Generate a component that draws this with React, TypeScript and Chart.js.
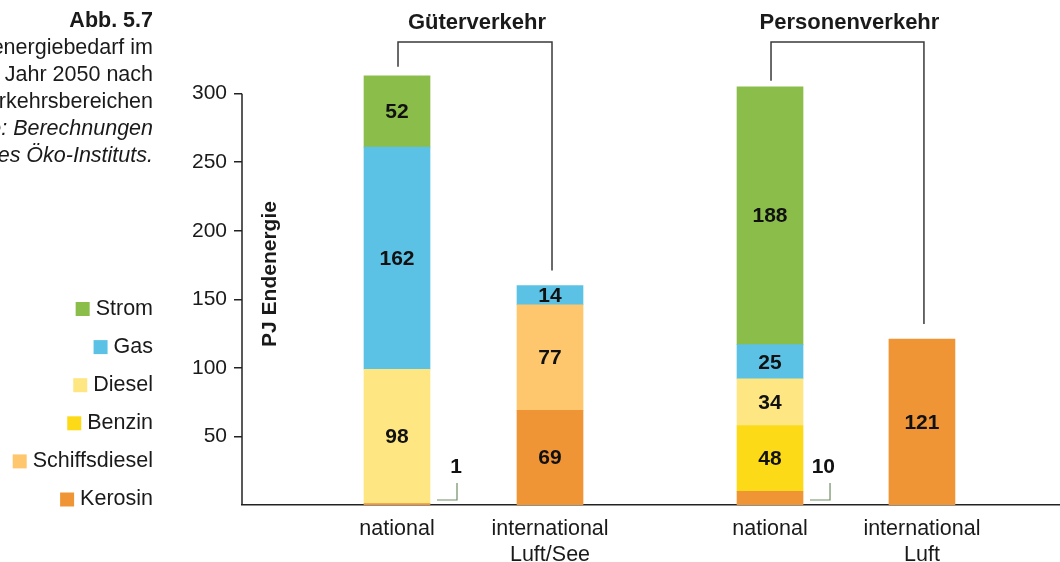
import React, { useEffect, useRef } from 'react';
import { Chart, registerables } from 'chart.js';

Chart.register(...registerables);

// ---- data ----
const categoryLabels: string[][] = [['national'], ['international', 'Luft/See'], ['national'], ['international', 'Luft']];
const groupTitles = ['Güterverkehr', 'Personenverkehr'];
const seriesNames = ['Kerosin', 'Schiffsdiesel', 'Benzin', 'Diesel', 'Gas', 'Strom'];
const kerosin = [1, 69, 10, 121];
const schiffsdiesel = [null, 77, null, null];
const benzin = [null, null, 48, null];
const diesel = [98, null, 34, null];
const gas = [162, 14, 25, null];
const strom = [52, null, 188, null];
const yTickValues = [50, 100, 150, 200, 250, 300];
const captionLines = ['Abb. 5.7', 'Endenergiebedarf im', 'Jahr 2050 nach', 'Verkehrsbereichen', 'Quelle: Berechnungen', 'des Öko-Instituts.'];

// ---- layout / styles ----
const seriesColors = ['#F09536', '#FEC76E', '#FDDA17', '#FEE682', '#5BC2E5', '#8BBD4A'];
const slotX = [0, 1, 2.438, 3.431];
const FONT = '"Liberation Sans", Arial, Helvetica, sans-serif';
const TEXT = '#1a1a1a';

const seriesValues = [kerosin, schiffsdiesel, benzin, diesel, gas, strom];

const decorPlugin = {
  id: 'decor',
  afterDatasetsDraw(chart: any) {
    const ctx = chart.ctx;
    ctx.save();
    chart.data.datasets.forEach((ds: any, i: number) => {
      const meta = chart.getDatasetMeta(i);
      meta.data.forEach((bar: any, j: number) => {
        const v = seriesValues[i][j];
        if (v == null) return;
        const { x, y, base, width } = bar.getProps(['x', 'y', 'base', 'width'], true);
        ctx.font = `bold 21px ${FONT}`;
        ctx.fillStyle = '#111';
        if (v >= 12) {
          ctx.textAlign = 'center';
          ctx.textBaseline = 'middle';
          ctx.fillText(String(v), x, (y + base) / 2 + 1);
        } else {
          const right = x + width / 2;
          ctx.textAlign = 'right';
          ctx.textBaseline = 'middle';
          ctx.fillText(String(v), right + 32, base - 38);
          ctx.strokeStyle = '#6f8d63';
          ctx.lineWidth = 1.2;
          ctx.beginPath();
          ctx.moveTo(right + 27, base - 22);
          ctx.lineTo(right + 27, base - 5);
          ctx.lineTo(right + 7, base - 5);
          ctx.stroke();
        }
      });
    });
    ctx.restore();
  },
  afterDraw(chart: any) {
    const ctx = chart.ctx;
    const xs = chart.scales.x;
    const ys = chart.scales.y;
    const area = chart.chartArea;
    ctx.save();

    // y axis line (0..300)
    ctx.strokeStyle = '#222';
    ctx.lineWidth = 1.5;
    ctx.beginPath();
    ctx.moveTo(area.left, ys.getPixelForValue(yTickValues[yTickValues.length - 1]));
    ctx.lineTo(area.left, ys.getPixelForValue(0));
    ctx.stroke();

    // y title
    ctx.save();
    ctx.translate(270, 274);
    ctx.rotate(-Math.PI / 2);
    ctx.font = `bold 21px ${FONT}`;
    ctx.fillStyle = TEXT;
    ctx.textAlign = 'center';
    ctx.textBaseline = 'middle';
    ctx.fillText('PJ Endenergie', 0, 0);
    ctx.restore();

    // group brackets
    const totals = categoryLabels.map((_, j) =>
      seriesValues.reduce((s, arr) => s + (arr[j] ?? 0), 0)
    );
    const gaps = [9, 15, 6, 15];
    [0, 1].forEach((g) => {
      const a = 2 * g, b = 2 * g + 1;
      const xa = xs.getPixelForValue(slotX[a]) + 1;
      const xb = xs.getPixelForValue(slotX[b]) + 2;
      const yTop = 42;
      ctx.strokeStyle = '#3a3a3a';
      ctx.lineWidth = 1.5;
      ctx.beginPath();
      ctx.moveTo(xa, ys.getPixelForValue(totals[a]) - gaps[a]);
      ctx.lineTo(xa, yTop);
      ctx.lineTo(xb, yTop);
      ctx.lineTo(xb, ys.getPixelForValue(totals[b]) - gaps[b]);
      ctx.stroke();
      ctx.font = `bold 22px ${FONT}`;
      ctx.fillStyle = TEXT;
      ctx.textAlign = 'center';
      ctx.textBaseline = 'middle';
      ctx.fillText(groupTitles[g], (xa + xb) / 2 + 2, 23);
    });

    // caption
    ctx.textAlign = 'right';
    ctx.textBaseline = 'middle';
    ctx.fillStyle = TEXT;
    captionLines.forEach((line, k) => {
      const style = k === 0 ? 'bold ' : k >= 4 ? 'italic ' : '';
      ctx.font = `${style}21.5px ${FONT}`;
      ctx.fillText(line, 153, 21 + k * 27);
    });

    // legend (top to bottom: reverse stack order)
    ctx.font = `21.5px ${FONT}`;
    const order = [...seriesNames.keys()].reverse();
    order.forEach((si, k) => {
      const cy = 309 + k * 38.1;
      const name = seriesNames[si];
      const w = ctx.measureText(name).width;
      ctx.fillStyle = TEXT;
      ctx.fillText(name, 153, cy);
      ctx.fillStyle = seriesColors[si];
      ctx.fillRect(153 - w - 6 - 14, cy - 7, 14, 14);
    });

    ctx.restore();
  },
};

export default function App() {
  const ref = useRef<HTMLCanvasElement | null>(null);
  useEffect(() => {
    document.body.style.margin = '0';
    if (!ref.current) return;
    const chart = new Chart(ref.current, {
      type: 'bar',
      data: {
        datasets: seriesNames.map((name, i) => ({
          label: name,
          data: seriesValues[i].map((v, j) => ({ x: slotX[j], y: v })),
          backgroundColor: seriesColors[i],
          borderWidth: 0,
          barThickness: 66,
          stack: 's',
        })),
      },
      options: {
        responsive: false,
        animation: false,
        layout: { padding: { left: 182, top: 12, right: 0, bottom: 0 } },
        plugins: { legend: { display: false }, tooltip: { enabled: false } },
        scales: {
          x: {
            type: 'linear',
            offset: false,
            min: -1.0131,
            max: 4.3333,
            afterBuildTicks: (scale: any) => {
              scale.ticks = slotX.map((v) => ({ value: v }));
            },
            afterFit: (scale: any) => {
              scale.height = 57;
            },
            grid: { display: false, drawTicks: false },
            border: { display: true, color: '#222', width: 1.5 },
            ticks: {
              autoSkip: false,
              maxRotation: 0,
              padding: 11,
              color: TEXT,
              font: { family: FONT, size: 21.5, lineHeight: 1.22 },
              callback: (_v: any, idx: number) => categoryLabels[idx],
            },
          },
          y: {
            stacked: true,
            min: 0,
            max: 354,
            afterBuildTicks: (scale: any) => {
              scale.ticks = yTickValues.map((v) => ({ value: v }));
            },
            afterFit: (scale: any) => {
              scale.width = 60;
            },
            grid: { display: true, drawOnChartArea: false, drawTicks: true, tickLength: 8, color: '#222', lineWidth: 1.5 },
            border: { display: false },
            ticks: {
              padding: 7,
              color: TEXT,
              font: { family: FONT, size: 21 },
            },
          },
        },
      },
      plugins: [decorPlugin],
    });
    return () => chart.destroy();
  }, []);
  return (
    <div style={{ width: 1060, height: 562 }}>
      <canvas ref={ref} width={1060} height={562} />
    </div>
  );
}
